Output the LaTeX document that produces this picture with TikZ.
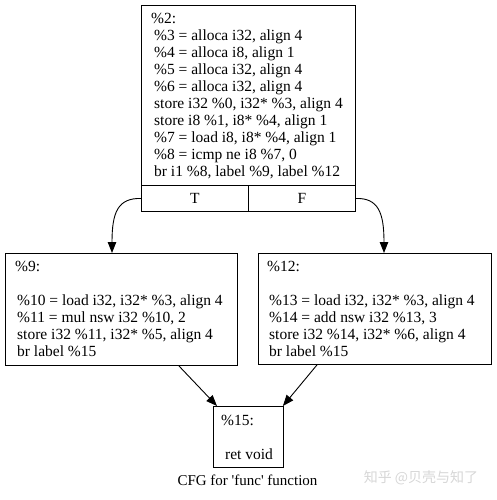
\documentclass[tikz,border=0pt]{standalone}
\usepackage{fontspec}
\setmainfont{Liberation Serif}
\newfontfamily\cjk{Noto Sans CJK SC}
\usetikzlibrary{arrows.meta,calc}
\tikzset{
  blk/.style={draw, line width=0.9pt, inner sep=0pt, anchor=north west},
  code/.style={anchor=north west, inner sep=0pt, align=left, font=\fontsize{15.5}{17}\selectfont},
  edge/.style={line width=0.9pt, -{Triangle[length=11pt,width=8.5pt]}},
  captext/.style={font=\fontsize{15}{17}\selectfont, inner sep=0pt}
}
\begin{document}
\begin{tikzpicture}[x=1pt,y=-1pt]
\useasboundingbox (0,0) rectangle (496,500);
% top block
\node[blk, minimum width=214pt, minimum height=180pt] (b2) at (141,5) {};
\node[blk, minimum width=107pt, minimum height=26pt, font=\fontsize{15.5}{17}\selectfont] (t) at (141,185) {T};
\node[blk, minimum width=107pt, minimum height=26pt, font=\fontsize{15.5}{17}\selectfont] (f) at (248,185) {F};
\node[code] (c2) at (151,13) {\%2:\\
\hspace{3pt}\%3 = alloca i32, align 4\\
\hspace{3pt}\%4 = alloca i8, align 1\\
\hspace{3pt}\%5 = alloca i32, align 4\\
\hspace{3pt}\%6 = alloca i32, align 4\\
\hspace{3pt}store i32 \%0, i32* \%3, align 4\\
\hspace{3pt}store i8 \%1, i8* \%4, align 1\\
\hspace{3pt}\%7 = load i8, i8* \%4, align 1\\
\hspace{3pt}\%8 = icmp ne i8 \%7, 0\\
\hspace{3pt}br i1 \%8, label \%9, label \%12};
% left block
\node[blk, minimum width=232pt, minimum height=112pt] (b9) at (5,253) {};
\node[code] (c9) at (15,261) {\%9:\\[17pt]
\hspace{2pt}\%10 = load i32, i32* \%3, align 4\\
\hspace{2pt}\%11 = mul nsw i32 \%10, 2\\
\hspace{2pt}store i32 \%11, i32* \%5, align 4\\
\hspace{2pt}br label \%15};
% right block
\node[blk, minimum width=233pt, minimum height=111pt] (b12) at (258,253) {};
\node[code] (c12) at (267,261) {\%12:\\[17pt]
\hspace{2pt}\%13 = load i32, i32* \%3, align 4\\
\hspace{2pt}\%14 = add nsw i32 \%13, 3\\
\hspace{2pt}store i32 \%14, i32* \%6, align 4\\
\hspace{2pt}br label \%15};
% bottom block
\node[blk, minimum width=70pt, minimum height=61pt] (b15) at (213,406) {};
\node[code] (c15) at (221,415) {\%15:\\[17pt]
\hspace{4pt}ret void};
% edges
\draw[edge] (t.west) .. controls (118,198) and (112,212) .. ([xshift=107pt]b9.north west);
\draw[edge] (f.east) .. controls (378,198) and (384,212) .. ([xshift=126pt]b12.north west);
\draw[edge] ([xshift=-59pt]b9.south east) -- ([xshift=4pt]b15.north west);
\draw[edge] ([xshift=59pt]b12.south west) -- ([xshift=-1pt]b15.north east);
% caption
\node[captext] (title) at (247.5,480) {CFG for \textquotesingle func\textquotesingle{} function};
\node[captext, text=black!16, font=\cjk\fontsize{14}{16}\selectfont] (wm) at (421,478) {知乎 @贝壳与知了};
\end{tikzpicture}
\end{document}
